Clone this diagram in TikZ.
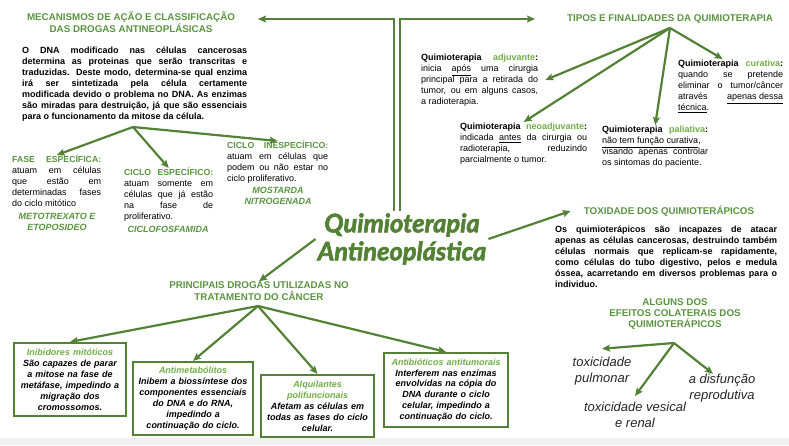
\documentclass[tikz,border=0pt]{standalone}
\usepackage{fontspec}
\setmainfont{Liberation Sans}
\newfontfamily\titlefont[BoldItalicFeatures={FakeBold=2.5}]{Lato}
\usetikzlibrary{arrows.meta, positioning}

\definecolor{verde}{HTML}{538135}
\definecolor{verdetit}{HTML}{5A9440}
\definecolor{verdeclaro}{HTML}{70AD47}
\definecolor{faixa}{HTML}{F0F0F0}

\setlength{\parindent}{0pt}
\tolerance=9999
\hbadness=10000

\newcommand{\subtit}[1]{{\fontsize{8.7}{11}\selectfont\bfseries\color{verdetit}#1}}
\newcommand{\tipo}[1]{\textbf{Quimioterapia \textcolor{verdeclaro}{#1}:}}

\begin{document}
\begin{tikzpicture}[x=1pt, y=-1pt, >={Stealth[length=8pt, width=7pt, inset=1.5pt]},
    seta/.style={->, draw=verde, line width=2.2pt},
    cabecalho/.style={text=verdetit, font=\fontsize{9.8}{12}\selectfont\bfseries, align=center, inner sep=0pt},
    corpo/.style={anchor=north west, align=justify, inner sep=0pt, font=\fontsize{9}{11}\selectfont, execute at begin node=\strut},
    corponeg/.style={corpo, font=\fontsize{9}{11}\selectfont\bfseries},
    droga/.style={text=verdetit, font=\fontsize{9}{11}\selectfont\bfseries\itshape, align=center, inner sep=0pt},
    caixa/.style={draw=verde, line width=2.2pt, align=center, inner sep=0pt, font=\fontsize{9}{10.9}\selectfont\bfseries\itshape},
    efeito/.style={text=black!85, font=\fontsize{13}{16}\selectfont\itshape, align=center, inner sep=0pt},
    grande/.style={text=verde, font=\titlefont\fontsize{25.5}{28}\selectfont\bfseries\itshape, align=center, inner sep=2pt}]

        \useasboundingbox (0,0) rectangle (789,445);
        \fill[faixa] (0,438) rectangle (789,445);

        % Nodes
        \node[grande] (quimio) at (402,239) {Quimioterapia\\Antineoplástica};

        \node[cabecalho] (mec) at (131,22.5) {MECANISMOS DE AÇÃO E CLASSIFICAÇÃO\\DAS DROGAS ANTINEOPLÁSICAS};
        \coordinate (mecPonta) at (258,19);
        \node[corponeg, text width=225pt] (dna) at (22,46) {O DNA modificado nas células cancerosas\linebreak
            determina as proteinas que serão transcritas e\linebreak
            traduzidas. Deste modo, determina-se qual enzima\linebreak
            irá ser sintetizada pela célula certamente\linebreak
            modificada devido o problema no DNA. As enzimas\linebreak
            são miradas para destruição, já que são essenciais\linebreak
            para o funcionamento da mitose da célula.};
        \coordinate (mecO) at (133,127);
        \node[corpo, text width=89pt] (fase) at (12,155) {\subtit{FASE ESPECÍFICA:}\linebreak
            atuam em células\linebreak que estão em\linebreak determinadas fases\linebreak do ciclo mitótico};
        \node[droga] (metot) at (57,222) {METOTREXATO E\\ETOPOSIDEO};
        \node[corpo, text width=89pt] (cicloe) at (124,168) {\subtit{CICLO ESPECÍFICO:}\linebreak
            atuam somente em\linebreak células que já estão\linebreak na fase de\linebreak proliferativo.};
        \node[droga] (ciclof) at (168,229) {CICLOFOSFAMIDA};
        \node[corpo, text width=101pt] (cicloi) at (227,141) {\subtit{CICLO INESPECÍFICO:}\linebreak
            atuam em células que\linebreak podem ou não estar no\linebreak ciclo proliferativo.};
        \node[droga] (most) at (278,195.5) {MOSTARDA\\NITROGENADA};

        \node[cabecalho] (tipos) at (670,19) {TIPOS E FINALIDADES DA QUIMIOTERAPIA};
        \coordinate (tipPonta) at (535,19);
        \coordinate (tipO) at (670,28);
        \node[corpo, text width=117pt] (adjuv) at (421,53) {\tipo{adjuvante}\linebreak
            inicia \underline{após} uma cirurgia\linebreak principal para a retirada do\linebreak
            tumor, ou em alguns casos,\linebreak a radioterapia.};
        \node[corpo, text width=127pt] (neoadj) at (460,122) {\tipo{neoadjuvante}\linebreak
            indicada \underline{antes} da cirurgia ou\linebreak radioterapia, reduzindo\linebreak parcialmente o tumor.};
        \node[corpo, text width=106pt] (palia) at (602,125) {\tipo{paliativa}\linebreak
            \underline{não tem função curativa},\linebreak visando apenas controlar\linebreak os sintomas do paciente.};
        \node[corpo, text width=105pt] (curat) at (678,59) {\tipo{curativa}\linebreak
            quando se pretende\linebreak eliminar o tumor/câncer\linebreak
            através \underline{apenas dessa}\linebreak \underline{técnica}.};

        \node[cabecalho] (tox) at (669,211) {TOXIDADE DOS QUIMIOTERÁPICOS};
        \node[corponeg, text width=222pt] (toxp) at (555,225) {Os quimioterápicos são incapazes de atacar\linebreak
            apenas as células cancerosas, destruindo também\linebreak
            células normais que replicam-se rapidamente,\linebreak
            como células do tubo digestivo, pelos e medula\linebreak
            óssea, acarretando em diversos problemas para o\linebreak
            individuo.};

        \node[cabecalho, font=\fontsize{9.8}{11}\selectfont\bfseries] (efeitos) at (675,314) {ALGUNS DOS\\EFEITOS COLATERAIS DOS\\QUIMIOTERÁPICOS};
        \coordinate (efO) at (674,343);
        \node[efeito] (pulm) at (602,371) {toxicidade\\pulmonar};
        \node[efeito] (vesic) at (635,415) {toxicidade vesical\\e renal};
        \node[efeito] (disf) at (722,388) {a disfunção\\reprodutiva};

        \node[cabecalho] (drogas) at (259,291) {PRINCIPAIS DROGAS UTILIZADAS NO\\TRATAMENTO DO CÂNCER};
        \coordinate (drogO) at (258,306);
        \node[caixa, minimum width=112pt, minimum height=73pt, text width=108pt] (inib) at (70,379.5)
            {\textcolor{verdeclaro}{Inibidores mitóticos}\\São capazes de parar\\a mitose na fase de\\metáfase, impedindo a\\migração dos\\cromossomos.};
        \node[caixa, minimum width=120pt, minimum height=73pt, text width=116pt] (antim) at (193,398.5)
            {\textcolor{verdeclaro}{Antimetabólitos}\\Inibem a biossíntese dos\\componentes essenciais\\do DNA e do RNA,\\impedindo a\\continuação do ciclo.};
        \node[caixa, minimum width=113pt, minimum height=62pt, text width=109pt] (alqu) at (317.5,406)
            {\textcolor{verdeclaro}{Alquilantes\\polifuncionais}\\Afetam as células em\\todas as fases do ciclo\\celular.};
        \node[caixa, minimum width=124pt, minimum height=74pt, text width=120pt] (antib) at (446,390)
            {\textcolor{verdeclaro}{Antibióticos antitumorais}\\Interferem nas enzimas\\envolvidas na cópia do\\DNA durante o ciclo\\celular, impedindo a\\continuação do ciclo.};

        % Edges
        \draw[seta] ([xshift=-8pt]quimio.north) |- (mecPonta);
        \draw[seta] ([xshift=-2pt]quimio.north) |- (tipPonta);
        \draw[seta] (mecO) -- (fase.north);
        \draw[seta] (mecO) -- (cicloe.north);
        \draw[seta] (mecO) -- (cicloi.north);
        \draw[seta] (tipO) -- ([xshift=7pt]adjuv.east);
        \draw[seta] (tipO) -- (neoadj.north);
        \draw[seta] (tipO) -- (palia.north);
        \draw[seta] (tipO) -- ([xshift=-8pt]curat.north);
        \draw[seta] (quimio.east) -- ([xshift=-13pt]tox.west);
        \draw[seta] (efO) -- ([yshift=8pt]pulm.north);
        \draw[seta] (efO) -- ([yshift=6pt]vesic.north);
        \draw[seta] (efO) -- ([xshift=-9pt]disf.north);
        \draw[seta] (quimio.west) -- (drogas.north);
        \draw[seta] (drogO) -- (inib.north);
        \draw[seta] (drogO) -- (antim.north);
        \draw[seta] (drogO) -- (alqu.north);
        \draw[seta] (drogO) -- (antib.north);

\end{tikzpicture}
\end{document}
